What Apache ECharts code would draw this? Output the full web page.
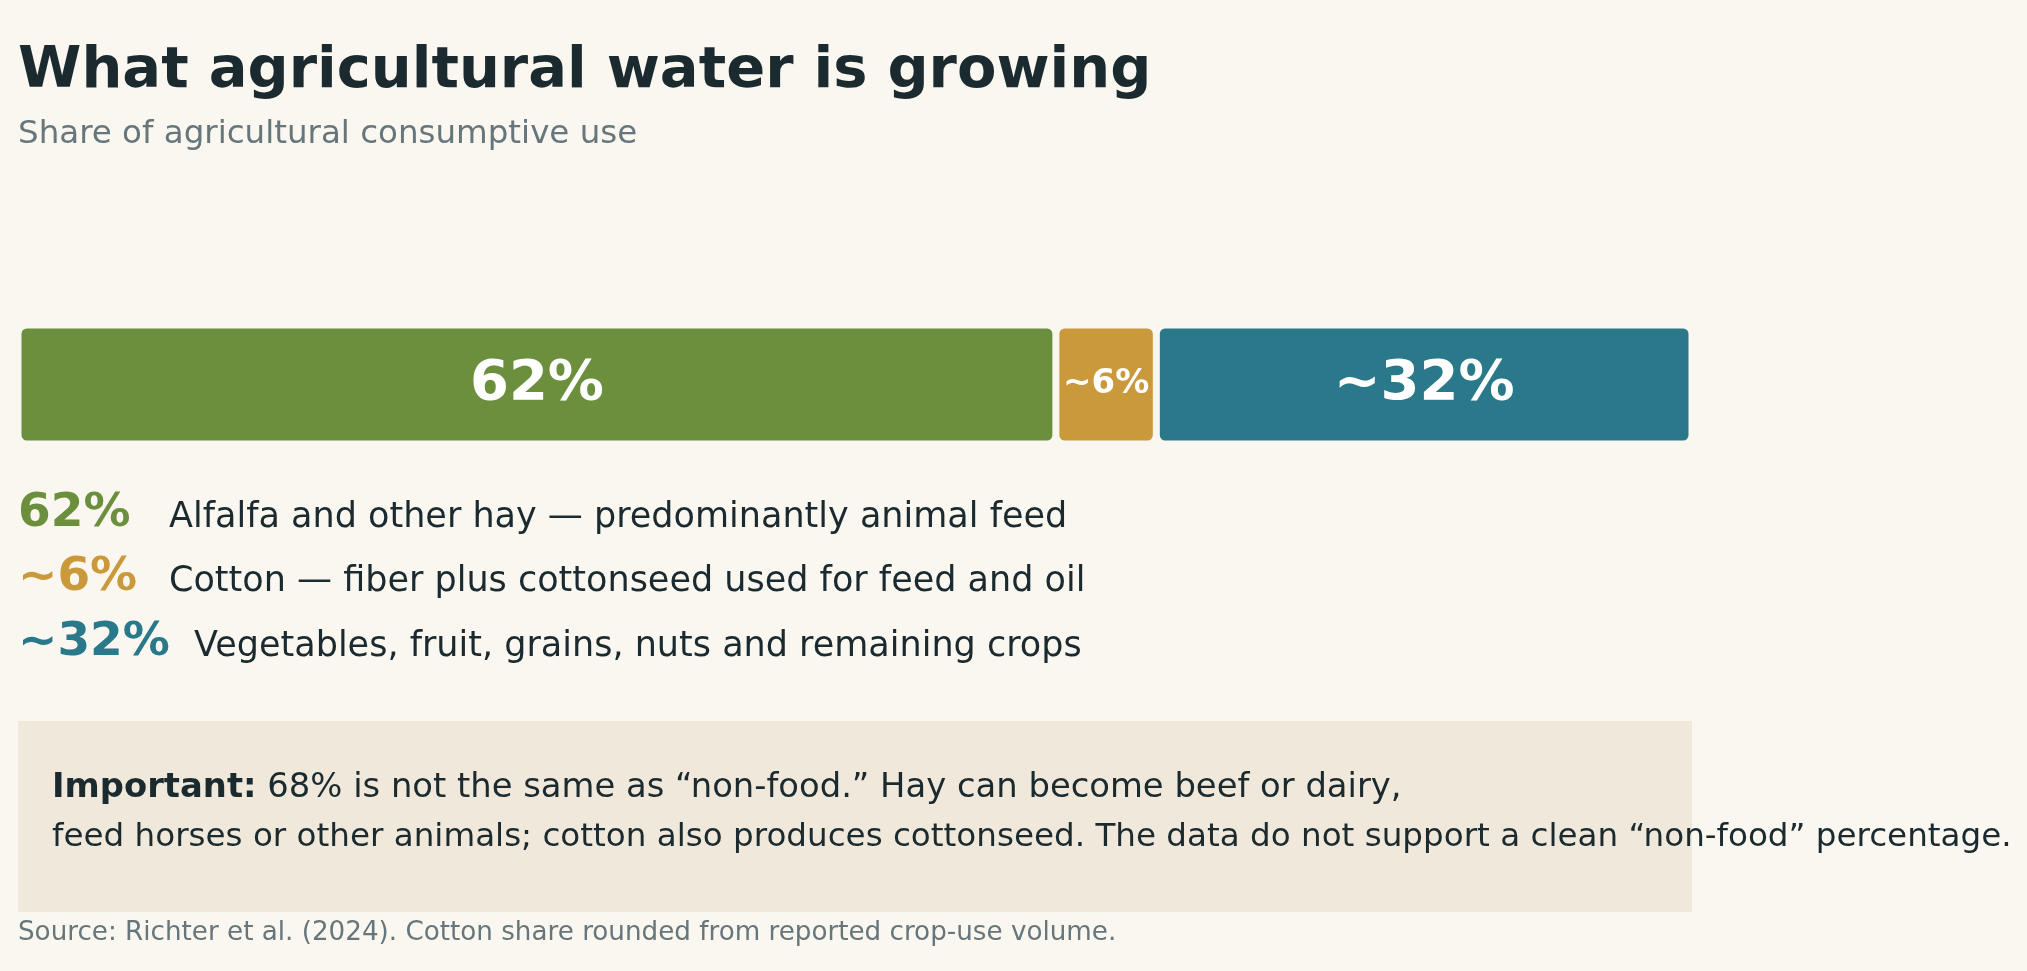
<!DOCTYPE html>
<html>
<head>
<meta charset="utf-8">
<script src="https://cdn.jsdelivr.net/npm/echarts@6/dist/echarts.min.js"></script>
<style>
  html, body { margin: 0; padding: 0; background: #faf7f0; }
  #container { width: 2027px; height: 971px; }
</style>
</head>
<body>
<div id="container"></div>
<script>
// data
var categories = ['Alfalfa and other hay', 'Cotton', 'Other crops'];
var shares = [62, 6, 32];
var shareLabels = ['62%', '~6%', '~32%'];
var descriptions = [
    'Alfalfa and other hay \u2014 predominantly animal feed',
    'Cotton \u2014 fiber plus cottonseed used for feed and oil',
    'Vegetables, fruit, grains, nuts and remaining crops'
];
var titleText = 'What agricultural water is growing';
var subtitleText = 'Share of agricultural consumptive use';
var noteLead = 'Important:';
var noteLine1 = '68% is not the same as \u201cnon-food.\u201d Hay can become beef or dairy,';
var noteLine2 = 'feed horses or other animals; cotton also produces cottonseed. The data do not support a clean \u201cnon-food\u201d percentage.';
var sourceText = 'Source: Richter et al. (2024). Cotton share rounded from reported crop-use volume.';

// styles
var backgroundColor = '#faf7f0';
var colors = ['#6c8f3e', '#c9993c', '#29798b'];
var inkColor = '#1b2a2f';
var mutedColor = '#66767b';
var FONT = 'DejaVu Sans';

var dom = document.getElementById('container');
var myChart = echarts.init(dom);

// one stacked bar per category, background-coloured border makes the gaps
var series = [];
categories.forEach(function (name, i) {
    series.push({
        name: name,
        type: 'bar',
        stack: 'total',
        barWidth: '100%',
        silent: true,
        itemStyle: {
            color: colors[i],
            borderColor: backgroundColor,
            borderWidth: 3.5,
            borderRadius: 7
        },
        label: {
            show: true,
            position: 'inside',
            formatter: shareLabels[i],
            color: '#ffffff',
            fontFamily: FONT,
            fontWeight: 'bold',
            fontSize: shares[i] < 10 ? 34 : 56
        },
        data: [shares[i]]
    });
});

// text blocks (y = baseline - 0.346 * font size, middle aligned)
function txt(x, baseline, size, weight, color, text) {
    return {
        type: 'text', x: x, y: baseline - 0.346 * size,
        style: { text: text, fill: color, font: weight + ' ' + size + 'px "' + FONT + '"', verticalAlign: 'middle' }
    };
}

var rowBase = [530, 594.5, 659];
var descX = [169, 169, 194];
var graphics = [];
graphics.push(txt(18, 92, 57.5, 'bold', inkColor, titleText));
graphics.push(txt(18, 146, 32.5, 'normal', mutedColor, subtitleText));
shareLabels.forEach(function (lab, i) {
    graphics.push(txt(18, rowBase[i], 47, 'bold', colors[i], lab));
    graphics.push(txt(descX[i], rowBase[i], 35, 'normal', inkColor, descriptions[i]));
});
// note box
graphics.push({
    type: 'rect', shape: { x: 18, y: 721, width: 1674, height: 191 },
    style: { fill: '#f0e9db' }, z: -1
});
graphics.push({
    type: 'text', x: 52, y: 800 - 0.346 * 33.8,
    style: {
        text: '{b|' + noteLead + '} ' + noteLine1,
        fill: inkColor, font: '33.8px "' + FONT + '"', verticalAlign: 'middle',
        rich: { b: { fontWeight: 'bold', fontFamily: FONT, fontSize: 33.8, fill: inkColor } }
    }
});
graphics.push(txt(52, 849, 32.6, 'normal', inkColor, noteLine2));
graphics.push(txt(18, 942, 26.2, 'normal', mutedColor, sourceText));

var option = {
    backgroundColor: backgroundColor,
    animation: false,
    grid: { left: 18, right: 335, top: 325, height: 119 },
    xAxis: { type: 'value', min: 0, max: 100, show: false },
    yAxis: { type: 'category', data: ['share'], show: false },
    graphic: graphics,
    series: series
};
myChart.setOption(option);
</script>
</body>
</html>
